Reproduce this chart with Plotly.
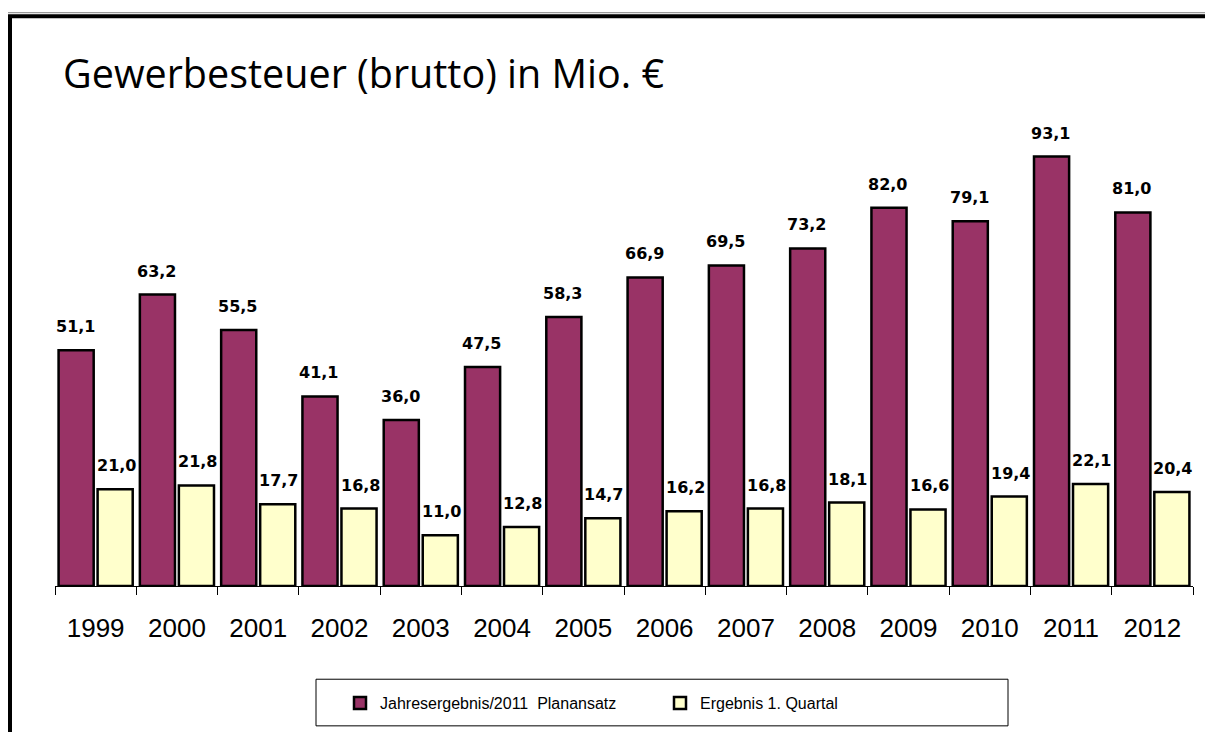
import plotly.graph_objects as go

years = ["1999", "2000", "2001", "2002", "2003", "2004", "2005", "2006",
         "2007", "2008", "2009", "2010", "2011", "2012"]
jahres = [51.1, 63.2, 55.5, 41.1, 36.0, 47.5, 58.3, 66.9, 69.5, 73.2, 82.0, 79.1, 93.1, 81.0]
quartal = [21.0, 21.8, 17.7, 16.8, 11.0, 12.8, 14.7, 16.2, 16.8, 18.1, 16.6, 19.4, 22.1, 20.4]

OFF = 8  # page body margin
W, H = 1197, 724
L, R, T, B = 47, 12, 92, 142
PW, PH = W - L - R, H - T - B


def px(x):
    return (x - OFF - L) / PW


def py(y):
    return (H - B - (y - OFF)) / PH


BARGAP = 0.04
cat_w = PW / len(years)
slot = cat_w * (1 - BARGAP) / 2

fig = go.Figure()
fig.add_trace(go.Bar(
    x=years, y=jahres, name="Jahresergebnis/2011  Planansatz",
    marker=dict(color="#993366", line=dict(color="black", width=2.5)),
))
fig.add_trace(go.Bar(
    x=years, y=quartal, name="Ergebnis 1. Quartal",
    marker=dict(color="#FFFFCC", line=dict(color="black", width=2.5)),
))

annotations = []
for vals, sh in ((jahres, -slot / 2 - 1), (quartal, slot / 2 + 1)):
    for i, v in enumerate(vals):
        annotations.append(dict(
            x=i, y=v, xref="x", yref="y", text="<b>" + f"{v:.1f}".replace(".", ",") + "</b>",
            showarrow=False, xshift=sh, yshift=12, yanchor="bottom",
            font=dict(family="DejaVu Sans", size=16, color="black"),
        ))

shapes = [
    dict(type="line", xref="paper", yref="paper",
         x0=px(0), y0=py(12), x1=px(1240), y1=py(12),
         line=dict(color="#808080", width=1)),
    dict(type="rect", xref="paper", yref="paper",
         x0=px(10), y0=py(760), x1=px(1240), y1=py(15.5),
         line=dict(color="black", width=4)),
    dict(type="rect", xref="paper", yref="paper",
         x0=px(316), y0=py(731), x1=px(1008), y1=py(684),
         line=dict(color="black", width=1), fillcolor="rgba(0,0,0,0)"),
]

fig.update_layout(
    width=W, height=H,
    margin=dict(l=L, r=R, t=T, b=B),
    paper_bgcolor="white", plot_bgcolor="white",
    separators=",.",
    barmode="group", bargap=BARGAP, bargroupgap=0.1,
    showlegend=True,
    legend=dict(orientation="h", x=px(340), y=py(708), xanchor="left", yanchor="middle",
                font=dict(family="Liberation Sans Narrow, Liberation Sans", size=16, color="black"),
                entrywidth=275, entrywidthmode="pixels",
                bgcolor="rgba(0,0,0,0)", borderwidth=0),
    title=dict(text="Gewerbesteuer (brutto) in Mio. €",
               x=(63 - OFF) / W, xanchor="left", y=1 - (74 - OFF) / H, yanchor="middle",
               xref="container", yref="container",
               font=dict(family="Open Sans", size=39.5, color="black")),
    shapes=shapes,
    annotations=annotations,
    xaxis=dict(type="category", range=[-0.5, len(years) - 0.5],
               showline=True, linecolor="black", linewidth=1,
               ticks="outside", tickson="boundaries", ticklen=8, tickcolor="black",
               tickfont=dict(family="Liberation Sans", size=26, color="black"),
               ticklabelstandoff=19, showgrid=False, tickangle=0),
    yaxis=dict(range=[0, PH / 4.65], showticklabels=False, showgrid=False,
               zeroline=False, showline=False),
)

fig.write_html("out.html")
